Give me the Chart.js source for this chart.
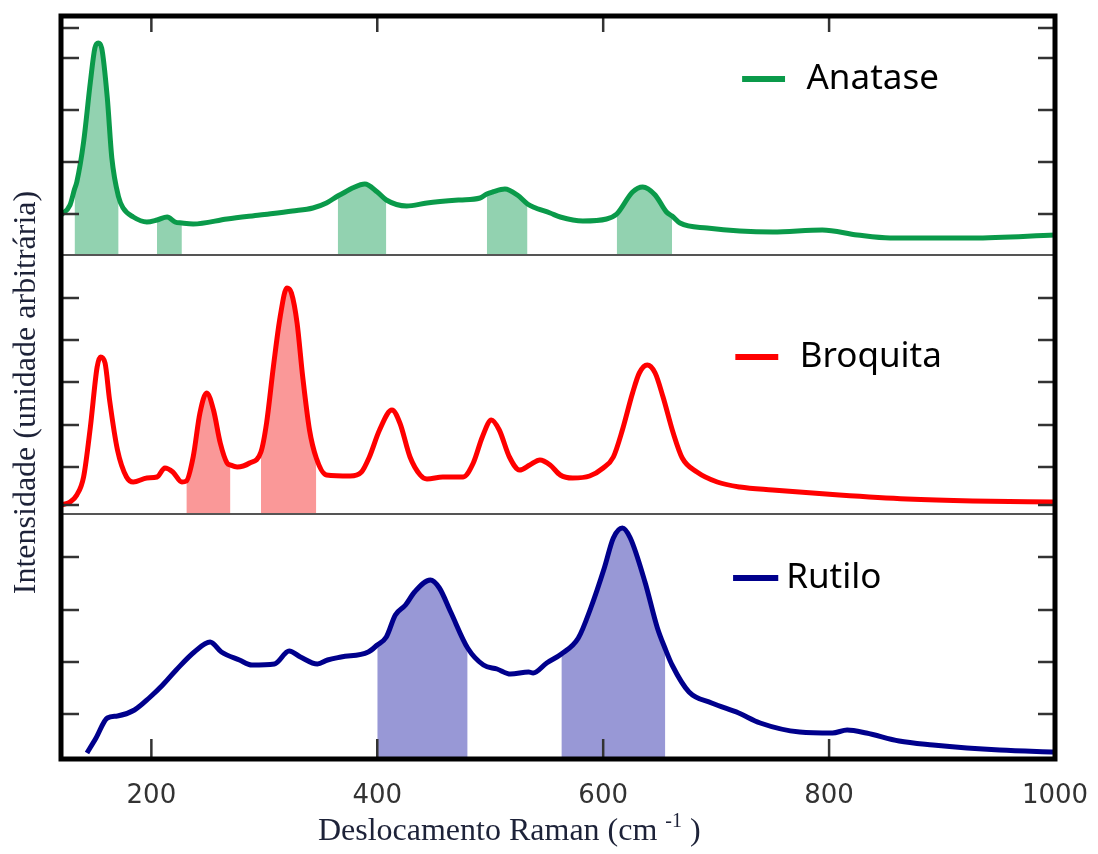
<!DOCTYPE html>
<html lang="pt">
<head>
<meta charset="utf-8">
<title>Espectros Raman - Anatase, Broquita, Rutilo</title>
<script src="https://cdn.jsdelivr.net/npm/chart.js@4.4.1/dist/chart.umd.min.js"></script>
<style>
  html, body { margin: 0; padding: 0; background: #fff; }
  #wrap { width: 1098px; height: 854px; }
</style>
</head>
<body>
<div id="wrap"><canvas id="raman" width="1098" height="854"></canvas></div>
<script>
// Raman shift (cm-1) / intensity (arb. units), one pair per phase
const anataseX = [120, 128, 132, 134, 140, 146, 150, 153, 156, 161, 165, 171, 175, 184, 196, 205, 214, 221, 227, 237,
    267, 296, 325, 343, 355, 365, 370, 378, 389, 400, 408, 426, 444, 473, 491, 497, 502, 513, 524, 533,
    538, 553, 562, 582, 603, 612, 626, 635, 646, 656, 661, 668, 692, 750, 794, 825, 854, 927, 1000];
const anataseY = [40, 50, 66, 73, 113, 173, 207, 212, 207, 157, 97, 58, 47, 38, 33, 35, 38, 33, 32, 31,
    36, 40, 44, 47, 52, 59, 62, 67, 71, 63, 55, 49, 52, 55, 57, 61, 63, 66, 60, 51,
    48, 42, 38, 34, 36, 41, 63, 68, 60, 43, 39, 32, 27, 23, 25, 20, 17, 17, 20];

const broquitaX = [120, 128, 134, 140, 146, 152, 155, 159, 163, 170, 178, 184, 196, 205, 212, 219, 227, 231, 237, 243,
    249, 255, 261, 267, 270, 276, 287, 297, 302, 308, 314, 320, 324, 329, 334, 340, 346, 355, 376, 386,
    393, 402, 413, 420, 429, 438, 444, 458, 476, 485, 493, 501, 508, 517, 526, 535, 544, 553, 562, 573,
    588, 600, 609, 617, 626, 632, 639, 646, 653, 662, 670, 683, 701, 721, 750, 809, 869, 927, 1000];
const broquitaY = [9, 12, 19, 37, 87, 147, 157, 151, 114, 64, 37, 32, 36, 37, 46, 42, 32, 33, 57, 101,
    121, 104, 71, 51, 49, 47, 51, 62, 91, 147, 197, 226, 221, 191, 137, 84, 56, 39, 38, 42,
    57, 84, 104, 91, 57, 39, 35, 37, 37, 51, 77, 94, 84, 57, 44, 49, 54, 49, 39, 36,
    38, 46, 57, 84, 121, 141, 149, 141, 117, 81, 56, 42, 32, 27, 24, 19, 15, 13, 12];

const rutiloX = [143, 151, 161, 170, 185, 198, 210, 222, 238, 252, 262, 278, 289, 309, 322, 332, 347, 356, 368, 392,
    400, 408, 416, 425, 433, 447, 455, 465, 480, 494, 506, 518, 534, 538, 550, 563, 578, 589, 601, 609,
    617, 624, 637, 648, 655, 661, 676, 696, 720, 739, 774, 803, 816, 833, 862, 892, 922, 951, 1000];
const rutiloY = [6, 21, 41, 43, 49, 61, 74, 89, 107, 117, 107, 99, 94, 95, 108, 102, 95, 99, 102, 107,
    114, 122, 144, 154, 167, 179, 171, 147, 111, 94, 90, 85, 87, 86, 96, 105, 121, 151, 191, 221,
    231, 221, 177, 131, 110, 94, 67, 56, 46, 36, 27, 26, 29, 26, 18, 14, 11, 9, 7];

// shaded Raman bands [from, to] (cm-1)
const anataseBands = [[132, 171], [205, 227], [365, 408], [497, 533], [612, 661]];
const broquitaBands = [[231, 270], [297, 346]];
const rutiloBands = [[400, 480], [563, 655]];

// axis ticks
const xTicks = [200, 400, 600, 800, 1000];
const anataseTicks = [41, 93, 145, 197, 227];
const broquitaTicks = [9, 47, 89, 132, 174, 216];
const rutiloTicks = [45, 97, 149, 202];

const xTitle = 'Deslocamento Raman (cm ';
const xTitleSup = '-1';
const xTitleEnd = ' )';
const yTitle = 'Intensidade (unidade arbitrária)';

const toPoints = (xs, ys) => xs.map((x, i) => ({ x: x, y: ys[i] }));

function phaseDatasets(label, xs, ys, bands, axis, lineColor, bandColor) {
    const pts = toPoints(xs, ys);
    const sets = [{
        label: label,
        data: pts,
        yAxisID: axis,
        borderColor: lineColor,
        borderWidth: 5,
        pointRadius: 0,
        fill: false,
        cubicInterpolationMode: 'monotone',
        order: 0
    }];
    bands.forEach(b => {
        sets.push({
            label: label + ' banda',
            data: pts.filter(p => p.x >= b[0] && p.x <= b[1]),
            yAxisID: axis,
            borderWidth: 0,
            borderColor: 'rgba(0,0,0,0)',
            backgroundColor: bandColor,
            pointRadius: 0,
            fill: 'origin',
            cubicInterpolationMode: 'monotone',
            order: 1
        });
    });
    return sets;
}

const legendItems = [
    { label: 'Anatase', color: '#0a9a4a', axis: 'yA', from: 723, to: 761, text: 780, level: 176 },
    { label: 'Broquita', color: '#ff0000', axis: 'yB', from: 717, to: 755, text: 774, level: 157 },
    { label: 'Rutilo', color: '#00008c', axis: 'yR', from: 715, to: 755, text: 762, level: 181 }
];

function panelAxis(ticks, top) {
    return {
        type: 'linear',
        position: 'left',
        stack: 'panels',
        stackWeight: top,
        min: 0,
        max: top,
        grid: { display: false },
        border: { display: false },
        ticks: { display: false },
        afterBuildTicks: s => { s.ticks = ticks.map(v => ({ value: v })); },
        afterFit: s => { s.width = 61; }
    };
}

const framePlugin = {
    id: 'frame',
    afterDatasetsDraw(chart) {
        const { ctx, chartArea: a, scales } = chart;
        const seg = (x1, y1, x2, y2) => { ctx.beginPath(); ctx.moveTo(x1, y1); ctx.lineTo(x2, y2); ctx.stroke(); };
        ctx.save();
        // panel separators
        ctx.strokeStyle = '#555';
        ctx.lineWidth = 2;
        ['yB', 'yR'].forEach(id => seg(a.left, scales[id].top, a.right, scales[id].top));
        // inward ticks
        ctx.strokeStyle = '#333';
        ctx.lineWidth = 2.5;
        ['yA', 'yB', 'yR'].forEach(id => {
            const s = scales[id];
            s.ticks.forEach(t => {
                const y = s.getPixelForValue(t.value);
                seg(a.left, y, a.left + 18, y);
                seg(a.right - 17, y, a.right, y);
            });
        });
        const x = scales.x;
        x.ticks.forEach(t => {
            if (t.value >= x.max) return;
            const px = x.getPixelForValue(t.value);
            seg(px, a.top, px, a.top + 16);
            seg(px, a.bottom - 20, px, a.bottom);
        });
        // outer frame
        ctx.strokeStyle = '#000';
        ctx.lineWidth = 5;
        ctx.strokeRect(a.left, a.top, a.right - a.left, a.bottom - a.top);
        ctx.restore();
    },
    afterDraw(chart) {
        const { ctx, chartArea: a, scales } = chart;
        ctx.save();
        // legends inside each panel
        legendItems.forEach(it => {
            const y = scales[it.axis].getPixelForValue(it.level);
            ctx.strokeStyle = it.color;
            ctx.lineWidth = 6;
            ctx.beginPath();
            ctx.moveTo(scales.x.getPixelForValue(it.from), y);
            ctx.lineTo(scales.x.getPixelForValue(it.to), y);
            ctx.stroke();
            ctx.fillStyle = '#000';
            ctx.font = '35px "Noto Sans"';
            ctx.textAlign = 'left';
            ctx.textBaseline = 'alphabetic';
            ctx.fillText(it.label, scales.x.getPixelForValue(it.text), y + 10);
        });
        // y title
        ctx.fillStyle = '#1d2238';
        ctx.font = '32px "Liberation Serif"';
        ctx.textAlign = 'center';
        ctx.textBaseline = 'middle';
        ctx.save();
        ctx.translate(a.left - 34, (a.top + a.bottom) / 2 + 5);
        ctx.rotate(-Math.PI / 2);
        ctx.fillText(yTitle, 0, 0);
        ctx.restore();
        // x title with superscript
        ctx.textAlign = 'left';
        ctx.textBaseline = 'alphabetic';
        const big = '32px "Liberation Serif"', small = '20px "Liberation Serif"';
        ctx.font = big;
        const w1 = ctx.measureText(xTitle).width;
        const w3 = ctx.measureText(xTitleEnd).width;
        ctx.font = small;
        const w2 = ctx.measureText(xTitleSup).width;
        let cx = a.left + (a.right - a.left) * 0.451 - (w1 + w2 + w3) / 2;
        const base = a.bottom + 81;
        ctx.font = big;
        ctx.fillText(xTitle, cx, base);
        cx += w1;
        ctx.font = small;
        ctx.fillText(xTitleSup, cx, base - 13);
        cx += w2;
        ctx.font = big;
        ctx.fillText(xTitleEnd, cx, base);
        ctx.restore();
    }
};

const datasets = [
    ...phaseDatasets('Anatase', anataseX, anataseY, anataseBands, 'yA', '#0a9a4a', '#92d2b0'),
    ...phaseDatasets('Broquita', broquitaX, broquitaY, broquitaBands, 'yB', '#ff0000', '#fa9898'),
    ...phaseDatasets('Rutilo', rutiloX, rutiloY, rutiloBands, 'yR', '#00008c', '#9898d6')
];

new Chart(document.getElementById('raman'), {
    type: 'line',
    data: { datasets: datasets },
    options: {
        responsive: false,
        animation: false,
        parsing: true,
        layout: { padding: { top: 16, right: 43, left: 0, bottom: 0 } },
        plugins: { legend: { display: false }, tooltip: { enabled: false } },
        scales: {
            x: {
                type: 'linear',
                position: 'bottom',
                min: 120,
                max: 1000,
                grid: { display: false },
                border: { display: false },
                ticks: {
                    color: '#333',
                    font: { family: 'DejaVu Sans', size: 26 },
                    padding: 14,
                    maxRotation: 0,
                    autoSkip: false,
                    callback: v => String(v)
                },
                afterBuildTicks: s => { s.ticks = xTicks.map(v => ({ value: v })); },
                afterFit: s => { s.height = 95; s.paddingLeft = 0; s.paddingRight = 0; }
            },
            yR: panelAxis(rutiloTicks, 245),
            yB: panelAxis(broquitaTicks, 259),
            yA: panelAxis(anataseTicks, 239)
        }
    },
    plugins: [framePlugin]
});
</script>
</body>
</html>
